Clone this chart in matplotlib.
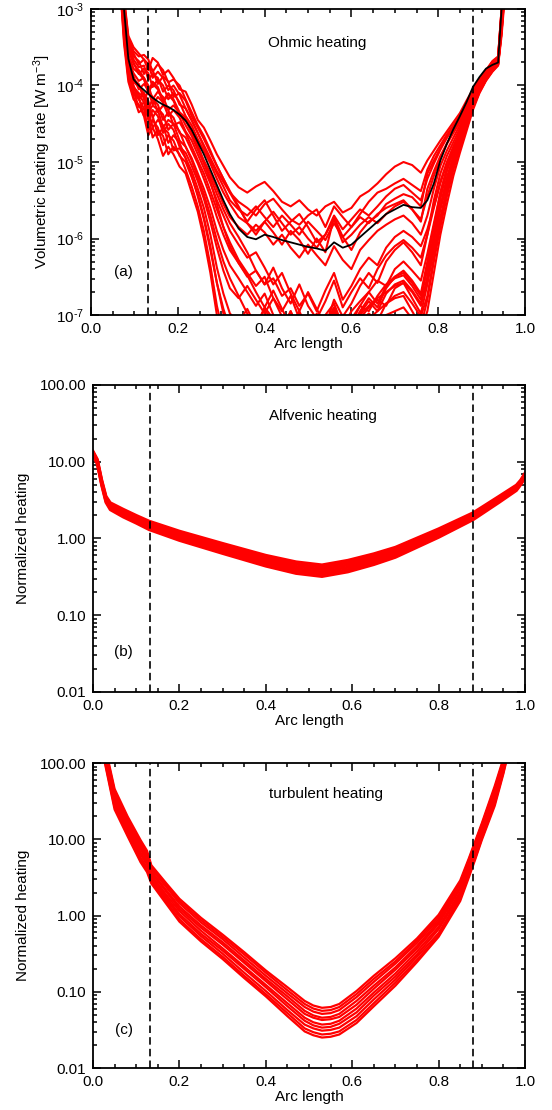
#!/usr/bin/env python3
# Heating profiles along the loop: ohmic (a), Alfvenic (b), turbulent (c)
# values are log10 of the heating

import numpy as np
import matplotlib.pyplot as plt
from matplotlib.ticker import MultipleLocator, LogLocator, NullFormatter

plt.rcParams['font.family'] = ['Liberation Sans', 'DejaVu Sans']
plt.rcParams['mathtext.fontset'] = 'custom'
plt.rcParams['mathtext.rm'] = 'Liberation Sans'
plt.rcParams['mathtext.it'] = 'Liberation Sans:italic'
plt.rcParams['font.size'] = 11

# ---- panel (a): ohmic heating, log10 [W m^-3] ----
x_ohm = [0.066, 0.076, 0.086, 0.098, 0.110, 0.122, 0.132, 0.142, 0.154, 0.166,
         0.178, 0.190, 0.204, 0.218, 0.232, 0.246, 0.260, 0.275, 0.290, 0.305,
         0.320, 0.340, 0.360, 0.380, 0.400, 0.420, 0.440, 0.460, 0.480, 0.500,
         0.520, 0.540, 0.560, 0.580, 0.600, 0.620, 0.640, 0.660, 0.680, 0.700,
         0.720, 0.740, 0.760, 0.775, 0.790, 0.805, 0.820, 0.835, 0.850, 0.865,
         0.880, 0.895, 0.910, 0.925, 0.938, 0.946, 0.954]

ohm_mean = [-2.3, -3.0, -3.65, -3.92, -4.00, -4.06, -4.11, -4.16, -4.21, -4.25,
            -4.28, -4.32, -4.38, -4.46, -4.58, -4.74, -4.90, -5.10, -5.30, -5.50,
            -5.68, -5.87, -5.98, -6.01, -5.95, -5.98, -6.02, -6.05, -6.08, -6.11,
            -6.13, -6.16, -6.05, -6.12, -6.08, -5.98, -5.88, -5.78, -5.68, -5.62,
            -5.56, -5.59, -5.60, -5.50, -5.28, -4.98, -4.76, -4.57, -4.40, -4.22,
            -4.02, -3.89, -3.78, -3.73, -3.70, -3.0, -2.4]

ohm_runs = [
    [-2.2, -2.85, -3.35, -3.5, -3.58, -3.66, -3.80, -3.64, -3.70, -3.86,
     -3.80, -3.90, -4.05, -4.08, -4.25, -4.45, -4.55, -4.72,
     -4.90, -5.05, -5.20, -5.33, -5.40, -5.32, -5.26, -5.38, -5.52, -5.58,
     -5.50, -5.62, -5.70, -5.58, -5.52, -5.66, -5.60, -5.45, -5.38, -5.28,
     -5.16, -5.06, -5.00, -5.04, -5.14,
     -4.98, -4.85, -4.72, -4.60, -4.48, -4.36, -4.20, -4.05, -3.92, -3.80,
     -3.68, -3.62, -3.0, -2.4],
    [-2.25, -2.9, -3.42, -3.58, -3.72, -3.66, -3.72, -3.90, -3.82, -3.90,
     -4.06, -4.00, -4.12, -4.30, -4.45, -4.62, -4.78, -4.95,
     -5.12, -5.26, -5.40, -5.52, -5.60, -5.70, -5.55, -5.48, -5.62, -5.75,
     -5.82, -5.70, -5.62, -5.85, -5.58, -5.72, -5.85, -5.68, -5.52, -5.40,
     -5.35, -5.28, -5.22, -5.30, -5.38,
     -5.10, -4.92, -4.78, -4.64, -4.52, -4.39, -4.23, -4.07, -3.93, -3.81,
     -3.69, -3.63, -3.0, -2.4],
    [-2.22, -2.88, -3.38, -3.55, -3.62, -3.60, -3.66, -3.82, -3.72, -3.80,
     -3.96, -3.92, -4.00, -4.18, -4.35, -4.52, -4.66, -4.85,
     -5.05, -5.22, -5.40, -5.60, -5.78, -5.62, -5.50, -5.70, -5.90, -5.78,
     -5.68, -5.85, -6.05, -5.95, -5.70, -5.88, -5.75, -5.62, -5.70, -5.58,
     -5.45, -5.35, -5.30, -5.40, -5.50,
     -5.22, -5.02, -4.84, -4.68, -4.54, -4.40, -4.24, -4.07, -3.93, -3.81,
     -3.69, -3.63, -3.0, -2.4],
    [-2.25, -2.95, -3.45, -3.62, -3.68, -3.85, -3.74, -3.80, -3.98, -3.88,
     -3.95, -4.15, -4.10, -4.20, -4.40, -4.55, -4.70, -4.88,
     -5.05, -5.22, -5.38, -5.58, -5.80, -5.95, -5.78, -5.92, -6.08, -5.90,
     -6.02, -6.20, -6.00, -6.18, -5.72, -5.98, -6.15, -5.92, -5.78, -5.70,
     -5.55, -5.48, -5.42, -5.46, -5.58,
     -5.15, -4.98, -4.82, -4.68, -4.55, -4.42, -4.26, -4.10, -3.95, -3.82,
     -3.70, -3.64, -3.05, -2.45],
    [-2.28, -2.98, -3.5, -3.66, -3.76, -3.74, -3.92, -3.85, -3.90, -4.08,
     -4.00, -4.06, -4.25, -4.30, -4.46, -4.62, -4.80, -4.98,
     -5.15, -5.32, -5.50, -5.62, -5.70, -5.58, -5.72, -5.85, -5.70, -5.82,
     -5.95, -5.78, -5.90, -6.02, -5.80, -5.98, -5.85, -5.72, -5.80, -5.68,
     -5.60, -5.55, -5.50, -5.62, -5.75,
     -5.45, -5.18, -4.95, -4.76, -4.60, -4.45, -4.28, -4.09, -3.95, -3.83,
     -3.71, -3.65, -3.05, -2.45],
    [-2.3, -3.0, -3.55, -3.70, -3.85, -3.78, -3.84, -4.02, -3.92, -4.00,
     -4.18, -4.10, -4.22, -4.40, -4.52, -4.70, -4.85, -5.02,
     -5.22, -5.40, -5.55, -5.72, -5.80, -5.90, -5.78, -5.65, -5.80, -5.95,
     -5.85, -6.00, -6.12, -5.95, -5.75, -6.05, -5.95, -5.82, -5.72, -5.80,
     -5.68, -5.58, -5.52, -5.62, -5.78,
     -5.35, -5.12, -4.92, -4.76, -4.62, -4.48, -4.30, -4.12, -3.97, -3.84,
     -3.72, -3.66, -3.1, -2.5],
    [-2.35, -3.05, -3.6, -3.78, -3.84, -3.92, -4.10, -3.98, -4.05, -4.22,
     -4.12, -4.20, -4.38, -4.45, -4.62, -4.80, -4.98, -5.15,
     -5.35, -5.55, -5.72, -5.85, -5.95, -5.82, -5.92, -6.08, -5.95, -6.12,
     -6.25, -6.08, -6.22, -6.35, -6.10, -6.28, -6.40, -6.15, -6.02, -5.90,
     -5.82, -5.75, -5.70, -5.80, -5.95,
     -5.70, -5.35, -5.05, -4.85, -4.68, -4.52, -4.33, -4.14, -3.98, -3.85,
     -3.73, -3.67, -3.1, -2.5],
    [-2.38, -3.08, -3.65, -3.84, -3.94, -3.90, -4.00, -4.18, -4.08, -4.15,
     -4.32, -4.26, -4.36, -4.52, -4.66, -4.84, -5.02, -5.20,
     -5.42, -5.62, -5.80, -5.98, -6.18, -6.42, -6.60, -6.38, -6.65, -6.85,
     -6.60, -6.88, -7.05, -6.82, -6.55, -6.90, -6.70, -6.52, -6.65, -6.40,
     -6.22, -6.10, -6.02, -6.12, -6.25,
     -5.95, -5.60, -5.28, -5.02, -4.80, -4.60, -4.40, -4.19, -4.02, -3.88,
     -3.76, -3.69, -3.15, -2.55],
    [-2.4, -3.1, -3.7, -3.88, -4.05, -3.98, -4.06, -4.25, -4.15, -4.22,
     -4.40, -4.32, -4.42, -4.60, -4.72, -4.90, -5.08, -5.28,
     -5.50, -5.70, -5.90, -6.08, -6.25, -6.18, -6.38, -6.60, -6.45, -6.72,
     -6.95, -6.70, -6.92, -7.15, -6.80, -7.02, -6.85, -6.62, -6.45, -6.58,
     -6.30, -6.15, -6.05, -6.18, -6.35,
     -5.95, -5.50, -5.15, -4.92, -4.74, -4.56, -4.36, -4.16, -4.00, -3.86,
     -3.74, -3.68, -3.15, -2.55],
    [-2.42, -3.12, -3.72, -3.92, -3.98, -4.18, -4.08, -4.15, -4.35, -4.26,
     -4.32, -4.52, -4.48, -4.62, -4.80, -4.98, -5.15, -5.38,
     -5.62, -5.85, -6.05, -6.28, -6.45, -6.62, -6.50, -6.78, -6.95, -6.75,
     -7.05, -7.25, -6.98, -7.20, -6.90, -7.30, -7.10, -6.88, -6.70, -6.55,
     -6.62, -6.40, -6.30, -6.42, -6.55,
     -6.20, -5.80, -5.40, -5.10, -4.86, -4.64, -4.44, -4.22, -4.05, -3.90,
     -3.78, -3.70, -3.2, -2.6],
    [-2.4, -3.15, -3.75, -3.95, -4.02, -4.10, -4.30, -4.18, -4.25, -4.45,
     -4.35, -4.42, -4.62, -4.68, -4.85, -5.02, -5.22, -5.45,
     -5.72, -5.95, -6.15, -6.32, -6.48, -6.70, -6.90, -6.68, -6.92, -7.15,
     -6.95, -7.20, -7.45, -7.18, -6.95, -7.35, -7.15, -6.95, -6.78, -6.90,
     -6.65, -6.50, -6.42, -6.55, -6.72,
     -6.30, -5.85, -5.40, -5.08, -4.84, -4.64, -4.42, -4.20, -4.03, -3.88,
     -3.76, -3.69, -3.2, -2.6],
    [-2.3, -3.0, -3.5, -3.72, -3.80, -3.90, -4.08, -3.95, -4.02, -4.20,
     -4.10, -4.18, -4.35, -4.42, -4.58, -4.78, -5.00, -5.25,
     -5.55, -5.85, -6.10, -6.32, -6.50, -6.42, -6.60, -6.52, -6.75, -6.65,
     -6.88, -6.72, -6.95, -6.68, -6.45, -6.80, -6.62, -6.40, -6.25, -6.35,
     -6.12, -5.98, -5.90, -5.98, -6.10,
     -5.88, -5.58, -5.25, -5.00, -4.80, -4.62, -4.42, -4.20, -4.02, -3.88,
     -3.76, -3.69, -3.2, -2.6],
    [-2.45, -3.2, -3.78, -4.0, -4.18, -4.10, -4.20, -4.42, -4.30, -4.38,
     -4.58, -4.50, -4.60, -4.80, -4.95, -5.15, -5.35, -5.60,
     -5.90, -6.15, -6.35, -6.52, -6.70, -6.88, -6.72, -7.00, -7.20, -6.95,
     -7.25, -7.05, -7.32, -7.10, -6.90, -7.25, -7.05, -6.88, -6.95, -6.75,
     -6.60, -6.50, -6.45, -6.58, -6.75,
     -6.40, -5.95, -5.48, -5.12, -4.86, -4.64, -4.43, -4.21, -4.03, -3.89,
     -3.77, -3.70, -3.2, -2.6],
    [-2.48, -3.22, -3.80, -4.02, -4.10, -4.15, -4.35, -4.26, -4.32, -4.55,
     -4.45, -4.50, -4.72, -4.80, -4.98, -5.20, -5.42, -5.70,
     -6.02, -6.30, -6.52, -6.75, -6.98, -7.15, -6.92, -7.12, -7.35, -7.18,
     -7.40, -7.25, -7.50, -7.30, -7.05, -7.45, -7.25, -7.05, -6.90, -6.80,
     -6.88, -6.65, -6.58, -6.70, -6.88,
     -6.50, -6.05, -5.62, -5.30, -5.00, -4.74, -4.50, -4.26, -4.07, -3.92,
     -3.79, -3.71, -3.25, -2.65],
    [-2.5, -3.25, -3.82, -4.05, -4.12, -4.22, -4.45, -4.32, -4.40, -4.62,
     -4.50, -4.58, -4.80, -4.88, -5.05, -5.25, -5.48, -5.78,
     -6.12, -6.42, -6.65, -6.78, -6.62, -6.80, -6.98, -6.78, -7.02, -7.20,
     -6.98, -7.25, -7.48, -7.22, -7.00, -7.35, -7.15, -6.98, -6.82, -6.95,
     -6.72, -6.60, -6.55, -6.68, -6.85,
     -6.55, -6.05, -5.58, -5.20, -4.92, -4.68, -4.46, -4.23, -4.05, -3.90,
     -3.78, -3.71, -3.25, -2.65],
    [-2.5, -3.3, -3.85, -4.08, -4.28, -4.22, -4.32, -4.55, -4.45, -4.52,
     -4.75, -4.65, -4.75, -4.95, -5.12, -5.35, -5.60, -5.95,
     -6.38, -6.72, -6.98, -7.10, -6.92, -7.15, -6.90, -7.05, -7.20, -6.95,
     -7.22, -7.10, -7.32, -7.00, -6.85, -7.15, -6.95, -6.82, -6.70, -6.85,
     -6.62, -6.52, -6.48, -6.62, -6.80,
     -6.38, -5.98, -5.58, -5.25, -4.96, -4.72, -4.49, -4.25, -4.06, -3.91,
     -3.79, -3.72, -3.25, -2.7],
    [-2.52, -3.32, -3.86, -4.09, -4.15, -4.40, -4.30, -4.40, -4.65, -4.55,
     -4.62, -4.85, -4.82, -4.95, -5.18, -5.45, -5.75, -6.15,
     -6.58, -6.92, -7.18, -7.35, -7.12, -7.40, -7.15, -7.35, -7.50, -7.25,
     -7.55, -7.35, -7.60, -7.30, -7.10, -7.45, -7.25, -7.10, -6.98, -7.08,
     -6.85, -6.75, -6.70, -6.85, -7.02,
     -6.75, -6.25, -5.78, -5.40, -5.08, -4.80, -4.55, -4.29, -4.09, -3.93,
     -3.81, -3.73, -3.3, -2.7],
    [-2.55, -3.35, -3.88, -4.1, -4.18, -4.30, -4.60, -4.45, -4.55, -4.78,
     -4.65, -4.72, -4.92, -5.00, -5.20, -5.42, -5.72, -6.10,
     -6.58, -6.98, -7.25, -7.35, -7.12, -7.40, -7.10, -7.25, -7.45, -7.15,
     -7.40, -7.30, -7.55, -7.20, -7.02, -7.35, -7.15, -7.00, -6.88, -6.78,
     -6.70, -6.62, -6.58, -6.78, -6.98,
     -6.60, -6.15, -5.72, -5.36, -5.04, -4.78, -4.53, -4.27, -4.07, -3.92,
     -3.80, -3.72, -3.3, -2.7],
    [-2.6, -3.4, -3.9, -4.15, -4.35, -4.30, -4.40, -4.68, -4.58, -4.66,
     -4.90, -4.80, -4.90, -5.10, -5.32, -5.58, -5.90, -6.35,
     -6.88, -7.25, -7.5, -7.35, -7.6, -7.35, -7.55, -7.4, -7.65, -7.45,
     -7.65, -7.5, -7.75, -7.45, -7.25, -7.55, -7.35, -7.2, -7.05, -6.95,
     -6.85, -6.78, -6.75, -6.95, -7.15,
     -6.80, -6.30, -5.85, -5.45, -5.10, -4.82, -4.56, -4.29, -4.08, -3.93,
     -3.81, -3.73, -3.3, -2.75],
    [-2.6, -3.45, -3.95, -4.18, -4.25, -4.40, -4.65, -4.55, -4.70, -4.92,
     -4.80, -4.90, -5.06, -5.15, -5.40, -5.65, -6.0, -6.45,
     -7.0, -7.4, -7.6, -7.5, -7.7, -7.45, -7.7, -7.5, -7.8, -7.55,
     -7.8, -7.6, -7.85, -7.55, -7.4, -7.7, -7.5, -7.35, -7.2, -7.1,
     -7.0, -6.95, -6.9, -7.05, -7.2,
     -6.95, -6.45, -5.95, -5.55, -5.18, -4.88, -4.60, -4.32, -4.10, -3.94,
     -3.82, -3.74, -3.35, -2.8],
]

# ---- panel (b): Alfvenic heating, log10 normalized ----
x_alf = [0.0, 0.01, 0.02, 0.03, 0.04, 0.07, 0.10, 0.13, 0.20, 0.30, 0.40,
         0.47, 0.53, 0.59, 0.65, 0.70, 0.80, 0.88, 0.94, 0.98, 0.99, 1.0]

alf_runs = [
    [1.135, 1.03, 0.765, 0.55, 0.465, 0.38, 0.30, 0.225, 0.095, -0.065, -0.22,
     -0.305, -0.345, -0.285, -0.20, -0.115, 0.125, 0.335, 0.55, 0.695, 0.76, 0.85],
    [1.125, 1.018, 0.751, 0.534, 0.447, 0.36, 0.28, 0.203, 0.071, -0.091, -0.248,
     -0.335, -0.375, -0.315, -0.228, -0.141, 0.103, 0.317, 0.534, 0.681, 0.748, 0.838],
    [1.115, 1.006, 0.737, 0.518, 0.429, 0.34, 0.26, 0.181, 0.047, -0.117, -0.276,
     -0.365, -0.405, -0.345, -0.256, -0.167, 0.081, 0.299, 0.518, 0.667, 0.736, 0.826],
    [1.105, 0.994, 0.723, 0.502, 0.411, 0.32, 0.24, 0.159, 0.023, -0.143, -0.304,
     -0.395, -0.435, -0.375, -0.284, -0.193, 0.059, 0.281, 0.502, 0.653, 0.724, 0.814],
    [1.095, 0.982, 0.709, 0.486, 0.393, 0.30, 0.22, 0.137, -0.001, -0.169, -0.332,
     -0.425, -0.465, -0.405, -0.312, -0.219, 0.037, 0.263, 0.486, 0.639, 0.712, 0.802],
    [1.085, 0.97, 0.695, 0.47, 0.375, 0.28, 0.20, 0.115, -0.025, -0.195, -0.36,
     -0.455, -0.495, -0.435, -0.34, -0.245, 0.015, 0.245, 0.47, 0.625, 0.70, 0.79],
]

# ---- panel (c): turbulent heating, log10 normalized ----
x_turb = [0.02, 0.05, 0.08, 0.11, 0.125, 0.135, 0.17, 0.20, 0.25, 0.30,
          0.35, 0.40, 0.45, 0.49, 0.51, 0.53, 0.55, 0.57, 0.61, 0.65,
          0.70, 0.75, 0.80, 0.85, 0.87, 0.885, 0.90, 0.93, 0.95, 0.96]

turb_runs = [
    [2.42, 1.66, 1.30, 0.99, 0.85, 0.66, 0.42, 0.22, -0.03, -0.25,
     -0.48, -0.72, -0.94, -1.12, -1.18, -1.21, -1.20, -1.16, -0.99, -0.79,
     -0.56, -0.30, 0.01, 0.46, 0.75, 0.98, 1.21, 1.70, 2.06, 2.30],
    [2.40, 1.63, 1.27, 0.96, 0.82, 0.64, 0.39, 0.19, -0.06, -0.28,
     -0.51, -0.75, -0.98, -1.16, -1.22, -1.25, -1.24, -1.20, -1.03, -0.83,
     -0.60, -0.33, -0.02, 0.43, 0.73, 0.96, 1.19, 1.67, 2.04, 2.28],
    [2.38, 1.61, 1.25, 0.93, 0.79, 0.61, 0.37, 0.16, -0.09, -0.31,
     -0.55, -0.79, -1.02, -1.20, -1.26, -1.29, -1.28, -1.24, -1.07, -0.87,
     -0.63, -0.36, -0.05, 0.41, 0.70, 0.93, 1.17, 1.65, 2.02, 2.26],
    [2.35, 1.57, 1.22, 0.90, 0.76, 0.58, 0.33, 0.12, -0.13, -0.35,
     -0.59, -0.83, -1.06, -1.25, -1.31, -1.34, -1.33, -1.29, -1.12, -0.92,
     -0.68, -0.40, -0.08, 0.37, 0.67, 0.90, 1.14, 1.62, 2.00, 2.24],
    [2.33, 1.55, 1.19, 0.87, 0.73, 0.56, 0.31, 0.09, -0.16, -0.38,
     -0.62, -0.86, -1.10, -1.29, -1.34, -1.37, -1.36, -1.33, -1.17, -0.96,
     -0.71, -0.43, -0.11, 0.35, 0.65, 0.88, 1.12, 1.59, 1.98, 2.22],
    [2.30, 1.51, 1.16, 0.83, 0.70, 0.53, 0.27, 0.06, -0.20, -0.43,
     -0.67, -0.91, -1.15, -1.34, -1.40, -1.43, -1.42, -1.38, -1.22, -1.01,
     -0.76, -0.47, -0.15, 0.31, 0.61, 0.85, 1.09, 1.56, 1.95, 2.19],
    [2.28, 1.48, 1.13, 0.80, 0.67, 0.50, 0.24, 0.02, -0.24, -0.46,
     -0.70, -0.94, -1.19, -1.38, -1.44, -1.47, -1.46, -1.42, -1.27, -1.05,
     -0.80, -0.51, -0.18, 0.28, 0.59, 0.82, 1.07, 1.53, 1.93, 2.17],
    [2.25, 1.45, 1.10, 0.76, 0.63, 0.47, 0.21, -0.01, -0.27, -0.50,
     -0.75, -0.99, -1.24, -1.43, -1.48, -1.51, -1.50, -1.47, -1.32, -1.10,
     -0.84, -0.54, -0.23, 0.25, 0.56, 0.79, 1.04, 1.50, 1.90, 2.14],
    [2.22, 1.42, 1.07, 0.73, 0.60, 0.44, 0.18, -0.05, -0.31, -0.54,
     -0.79, -1.03, -1.28, -1.48, -1.53, -1.56, -1.55, -1.52, -1.37, -1.15,
     -0.88, -0.58, -0.26, 0.22, 0.53, 0.76, 1.01, 1.47, 1.88, 2.12],
    [2.20, 1.39, 1.04, 0.70, 0.57, 0.42, 0.15, -0.08, -0.34, -0.57,
     -0.82, -1.06, -1.32, -1.52, -1.57, -1.60, -1.59, -1.56, -1.41, -1.19,
     -0.92, -0.61, -0.28, 0.19, 0.50, 0.74, 0.99, 1.44, 1.86, 2.10],
]

footpoints = [0.132, 0.88]  # dashed lines (transition region)
norm_ticks = [0.01, 0.1, 1, 10, 100]
norm_labels = ['0.01', '0.10', '1.00', '10.00', '100.00']


def style_axis(ax, ylo, yhi):
    ax.set_yscale('log')
    ax.set_xlim(0, 1)
    ax.set_ylim(ylo, yhi)
    ax.xaxis.set_major_locator(MultipleLocator(0.2))
    ax.xaxis.set_minor_locator(MultipleLocator(0.05))
    ax.yaxis.set_major_locator(LogLocator(base=10))
    ax.yaxis.set_minor_locator(LogLocator(base=10, subs=np.arange(2, 10)))
    ax.yaxis.set_minor_formatter(NullFormatter())
    ax.tick_params(which='both', direction='in', top=True, right=True,
                   width=1.1, pad=5, labelsize=11)
    ax.tick_params(which='major', length=6)
    ax.tick_params(which='minor', length=3)
    for s in ax.spines.values():
        s.set_linewidth(1.3)
    ax.xaxis.set_major_formatter(plt.FuncFormatter(lambda v, p: '%.1f' % v))
    ax.set_xlabel('Arc length', labelpad=1)
    for xf in footpoints:
        ax.axvline(xf, color='k', lw=1.2, ls=(0, (4.5, 2.5)), zorder=5)


def pow10_label(v, pos):
    # IDL style 10^-n, short hyphen in the exponent
    return r'$10^{\text{%d}}$' % int(round(np.log10(v)))


fig = plt.figure(figsize=(5.52, 11.10), dpi=100)

# (a) ohmic
ax1 = fig.add_axes([0.1649, 0.7162, 0.7862, 0.2757])
for run in ohm_runs:
    ax1.plot(x_ohm, 10.0**np.array(run), color='red', lw=1.5)
ax1.plot(x_ohm, 10.0**np.array(ohm_mean), color='black', lw=1.3, zorder=4)
style_axis(ax1, 1e-7, 1e-3)
ax1.yaxis.set_major_formatter(plt.FuncFormatter(pow10_label))
ax1.set_ylabel('Volumetric heating rate [W m$^{-3}$]', labelpad=2)
ax1.text(0.52, 0.89, 'Ohmic heating', transform=ax1.transAxes, ha='center', va='center')
ax1.text(0.075, 0.14, '(a)', transform=ax1.transAxes, ha='center', va='center')

# (b) Alfvenic
ax2 = fig.add_axes([0.1685, 0.3766, 0.7826, 0.2766])
for run in alf_runs:
    ax2.plot(x_alf, 10.0**np.array(run), color='red', lw=2.2)
style_axis(ax2, 0.01, 100)
ax2.set_yticks(norm_ticks)
ax2.set_yticklabels(norm_labels)
ax2.set_ylabel('Normalized heating', labelpad=7)
ax2.text(0.532, 0.90, 'Alfvenic heating', transform=ax2.transAxes, ha='center', va='center')
ax2.text(0.071, 0.13, '(b)', transform=ax2.transAxes, ha='center', va='center')

# (c) turbulent
ax3 = fig.add_axes([0.1685, 0.0378, 0.7826, 0.2748])
for run in turb_runs:
    ax3.plot(x_turb, 10.0**np.array(run), color='red', lw=1.6)
style_axis(ax3, 0.01, 100)
ax3.set_yticks(norm_ticks)
ax3.set_yticklabels(norm_labels)
ax3.set_ylabel('Normalized heating', labelpad=7)
ax3.text(0.539, 0.90, 'turbulent heating', transform=ax3.transAxes, ha='center', va='center')
ax3.text(0.071, 0.125, '(c)', transform=ax3.transAxes, ha='center', va='center')

fig.savefig('out.png', dpi=100)
